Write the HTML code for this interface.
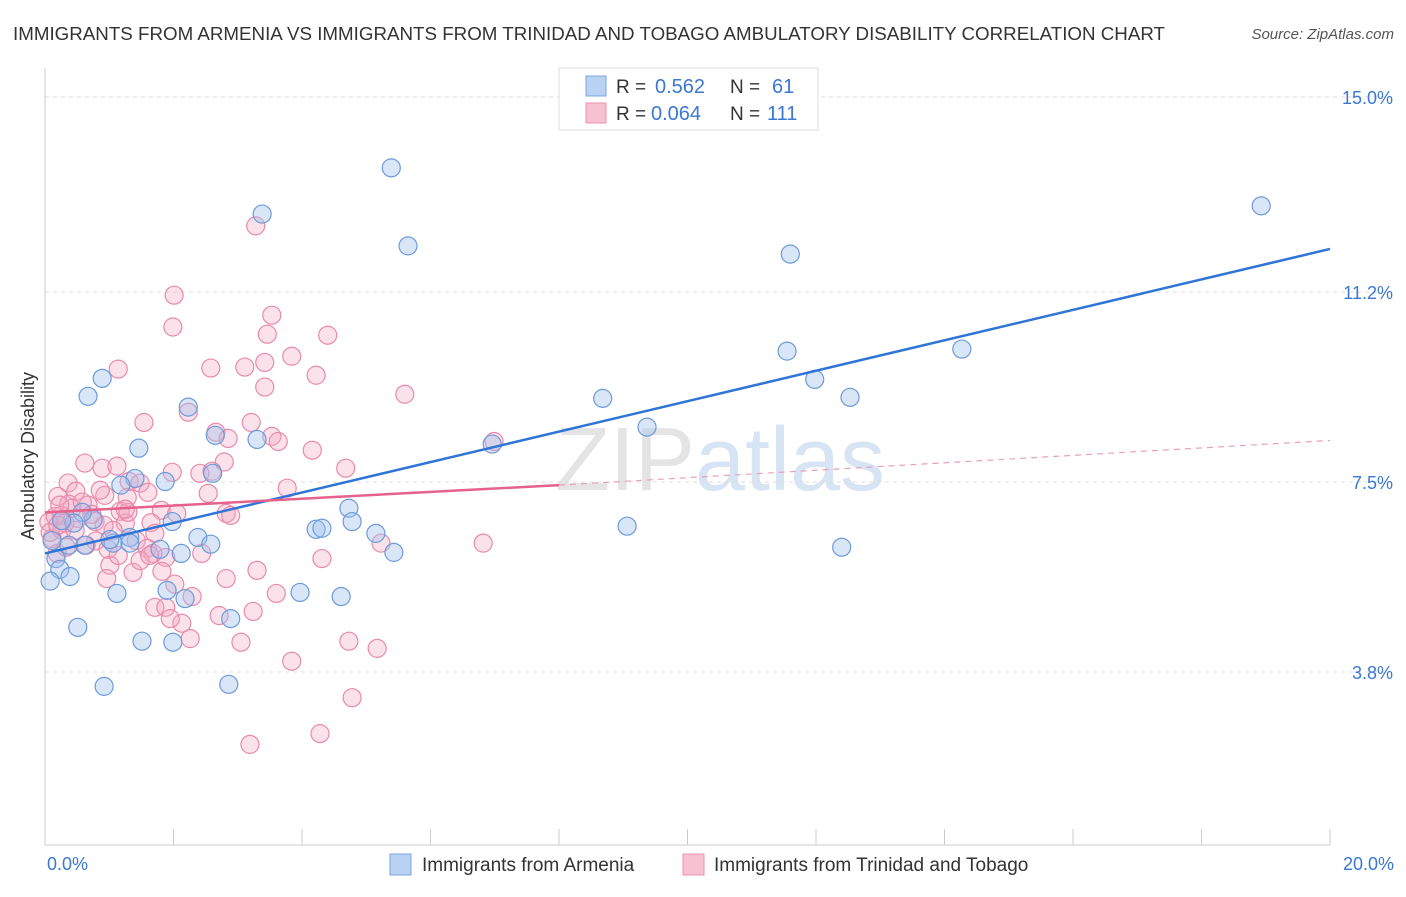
<!DOCTYPE html>
<html><head><meta charset="utf-8"><style>
body{margin:0;background:#fff;font-family:"Liberation Sans",sans-serif}
svg text{font-family:"Liberation Sans",sans-serif}
</style></head><body>
<svg id="chart" width="1406" height="892" xmlns="http://www.w3.org/2000/svg">
<text x="13" y="40" font-size="18.6" textLength="1152" lengthAdjust="spacingAndGlyphs" fill="#333">IMMIGRANTS FROM ARMENIA VS IMMIGRANTS FROM TRINIDAD AND TOBAGO AMBULATORY DISABILITY CORRELATION CHART</text>
<text x="1394" y="39" font-size="15" fill="#555" text-anchor="end" font-style="italic">Source: ZipAtlas.com</text>
<text x="720" y="490" font-size="90" fill="#e4e4e4" text-anchor="middle" font-family="Liberation Serif">ZIP<tspan fill="#d6e4f4" font-family="Liberation Sans">atlas</tspan></text>
<g id="grid"></g>
<g id="axes"></g>
<g id="pinkpts"></g>
<g id="bluepts"></g>
<g id="trends"></g>
<text transform="translate(34,456) rotate(-90)" font-size="18" fill="#333" text-anchor="middle">Ambulatory Disability</text>
<g>
<rect x="559" y="68" width="259" height="62" fill="#fff" stroke="#ddd"/>
<rect x="586" y="76" width="20" height="20" fill="#b9d1f3" stroke="#7aa5e0"/>
<rect x="586" y="103" width="20" height="20" fill="#f7c1d2" stroke="#ec93b0"/>
<text x="616" y="93" font-size="19" fill="#333">R =</text>
<text x="655" y="93" font-size="20" fill="#3a78d4">0.562</text>
<text x="730" y="93" font-size="19" fill="#333">N =</text>
<text x="772" y="93" font-size="20" fill="#3a78d4">61</text>
<text x="616" y="120" font-size="19" fill="#333">R =</text>
<text x="651" y="120" font-size="20" fill="#3a78d4">0.064</text>
<text x="730" y="120" font-size="19" fill="#333">N =</text>
<text x="767" y="120" font-size="20" fill="#3a78d4">111</text>
</g>
<g>
<rect x="390" y="854" width="21" height="21" fill="#b9d1f3" stroke="#7aa5e0"/>
<text x="422" y="871" font-size="19" fill="#333">Immigrants from Armenia</text>
<rect x="683" y="854" width="21" height="21" fill="#f7c1d2" stroke="#ec93b0"/>
<text x="714" y="871" font-size="19" fill="#333">Immigrants from Trinidad and Tobago</text>
</g>
</svg>
<script>
const yTicks=[15.0,11.2,7.5,3.8];
const yTickLabels=["15.0%","11.2%","7.5%","3.8%"];
const xTicks=[0,2,4,6,8,10,12,14,16,18,20];
const xEndLabels=["0.0%","20.0%"];
const blueX=[5.39,3.38,5.65,18.93,11.60,11.55,14.27,11.98,12.53,8.68,9.37,6.96,9.06,12.40,0.89,0.67,2.23,1.46,2.65,3.30,2.61,1.40,1.87,1.18,4.73,4.78,4.22,4.31,5.15,5.43,1.98,1.32,1.32,1.06,1.01,1.79,2.12,2.38,2.58,0.75,0.58,0.45,0.37,0.17,0.23,0.39,0.08,1.90,1.12,2.18,3.97,4.61,2.89,0.51,1.51,1.99,0.92,2.86,0.26,0.11,0.62];
const blueY=[13.62,12.72,12.10,12.88,11.94,10.05,10.09,9.50,9.15,9.13,8.57,8.24,6.64,6.23,9.52,9.17,8.96,8.16,8.41,8.33,7.67,7.57,7.51,7.44,6.99,6.73,6.58,6.60,6.50,6.13,6.73,6.42,6.31,6.31,6.38,6.19,6.11,6.42,6.29,6.77,6.91,6.70,6.27,6.01,5.80,5.66,5.57,5.39,5.33,5.23,5.35,5.27,4.84,4.67,4.40,4.38,3.52,3.56,6.75,6.36,6.27];
const pinkX=[3.28,2.01,3.53,1.99,3.46,4.40,3.84,3.42,2.58,3.11,1.14,4.22,3.42,5.60,2.23,1.54,3.21,2.66,2.85,3.53,3.63,6.99,4.16,0.62,2.79,0.89,1.12,1.98,2.41,2.60,4.68,0.36,1.31,1.48,3.77,0.93,1.60,0.48,0.20,2.54,1.28,0.67,0.37,1.17,1.81,2.05,2.82,2.89,0.25,0.51,0.78,1.25,1.65,1.29,1.71,1.06,0.79,0.64,0.98,1.42,1.59,1.88,1.68,4.31,5.23,6.82,0.19,0.31,0.06,0.26,0.11,1.01,1.14,1.37,1.82,0.96,3.30,2.82,2.29,3.60,1.71,1.88,2.13,2.71,3.24,2.26,3.05,4.73,5.17,3.84,4.78,4.28,3.19,0.08,0.16,0.42,0.58,0.86,0.73,0.20,0.33,1.48,1.95,0.23,0.47,0.92,1.25,1.63,2.02,2.44];
const pinkY=[12.49,11.14,10.75,10.52,10.38,10.36,9.95,9.83,9.72,9.74,9.70,9.58,9.35,9.21,8.86,8.66,8.66,8.47,8.35,8.39,8.29,8.29,8.12,7.87,7.89,7.77,7.81,7.69,7.67,7.71,7.77,7.48,7.51,7.48,7.38,7.24,7.30,7.32,7.22,7.28,7.20,7.05,7.07,6.93,6.95,6.89,6.89,6.85,6.85,6.79,6.73,6.70,6.71,6.91,6.50,6.56,6.35,6.27,6.19,6.36,6.21,6.03,6.11,6.01,6.31,6.31,6.11,6.70,6.72,6.56,6.40,5.88,6.07,5.74,5.76,5.62,5.78,5.62,5.27,5.33,5.06,5.06,4.75,4.90,4.98,4.45,4.38,4.40,4.26,4.01,3.30,2.60,2.39,6.52,6.83,6.99,7.11,7.34,6.87,6.66,6.23,5.97,4.84,7.05,6.56,6.66,6.97,6.07,5.51,6.11];
const blueTrendX=[0,20], blueTrendY=[6.11,12.04];
const pinkTrendX=[0,8,20], pinkTrendY=[6.91,7.44,8.31];

const NS="http://www.w3.org/2000/svg";
const X0=45,X1=1330,Ytop=97,Ybot=672;
function sx(v){return X0+(v-0)/20*(X1-X0);}
function sy(v){return Ytop+(15-v)/(15-3.8)*(Ybot-Ytop);}
function mk(tag,attrs,parent){const e=document.createElementNS(NS,tag);for(const k in attrs)e.setAttribute(k,attrs[k]);parent.appendChild(e);return e;}
const grid=document.getElementById('grid'),axes=document.getElementById('axes');
yTicks.forEach((t,i)=>{
  const l=mk('line',{x1:X0,x2:1392,y1:sy(t),y2:sy(t),stroke:'#ddd','stroke-dasharray':'4,4'},grid);
  
  
  const tx=mk('text',{x:1393,y:sy(t)+7,'font-size':18,fill:'#3a78d4','text-anchor':'end'},axes);
  tx.textContent=yTickLabels[i];
  
  
});
const ax=mk('line',{x1:X0,x2:X0,y1:68,y2:845,stroke:'#ccc'},axes);


const bx=mk('line',{x1:X0,x2:X1,y1:845,y2:845,stroke:'#ccc'},axes);


xTicks.forEach(t=>{
  const l=mk('line',{x1:sx(t),x2:sx(t),y1:829,y2:845,stroke:'#ccc'},axes);
  
  
});
const xl0=mk('text',{x:47,y:870,'font-size':18,fill:'#3a78d4'},axes);xl0.textContent=xEndLabels[0];


const xl1=mk('text',{x:1394,y:870,'font-size':18,fill:'#3a78d4','text-anchor':'end'},axes);xl1.textContent=xEndLabels[1];


const pg=document.getElementById('pinkpts');
pinkX.forEach((v,i)=>{
  const c=mk('circle',{cx:sx(v),cy:sy(pinkY[i]),r:9,fill:'rgba(244,170,195,0.35)',stroke:'#e98aab','stroke-width':1.2},pg);
  
  
});
const bg=document.getElementById('bluepts');
blueX.forEach((v,i)=>{
  const c=mk('circle',{cx:sx(v),cy:sy(blueY[i]),r:9,fill:'rgba(160,193,238,0.4)',stroke:'#6c9bd9','stroke-width':1.2},bg);
  
  
});
const tg=document.getElementById('trends');
const bl=mk('line',{x1:sx(blueTrendX[0]),y1:sy(blueTrendY[0]),x2:sx(blueTrendX[1]),y2:sy(blueTrendY[1]),stroke:'#2f74d6','stroke-width':2.5},tg);


const pl=mk('line',{x1:sx(pinkTrendX[0]),y1:sy(pinkTrendY[0]),x2:sx(pinkTrendX[1]),y2:sy(pinkTrendY[1]),stroke:'#e5628d','stroke-width':2.5},tg);


const pd=mk('line',{x1:sx(pinkTrendX[1]),y1:sy(pinkTrendY[1]),x2:sx(pinkTrendX[2]),y2:sy(pinkTrendY[2]),stroke:'#eaa0b8','stroke-width':1.2,'stroke-dasharray':'6,5'},tg);


</script>
</body></html>
